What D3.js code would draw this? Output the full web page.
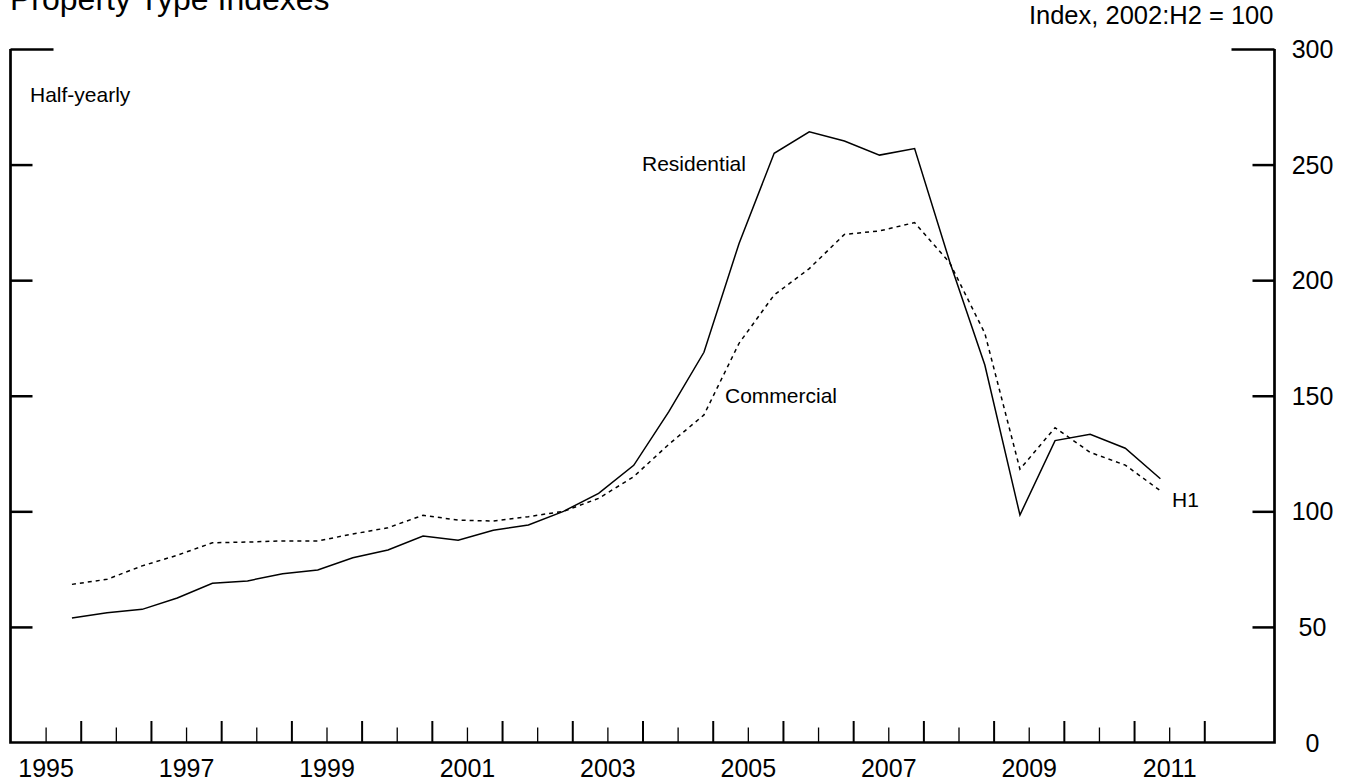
<!DOCTYPE html>
<html>
<head>
<meta charset="utf-8">
<script src="https://cdn.jsdelivr.net/npm/d3@7/dist/d3.min.js"></script>
<style>
  html, body { margin: 0; padding: 0; background: #fff; }
  svg { display: block; }
  text { font-family: "Liberation Sans", Arial, Helvetica, sans-serif; fill: #000; }
</style>
</head>
<body>
<svg id="chart" width="1356" height="782"></svg>
<script>
// ---- data (half-yearly, index 2002:H2 = 100) ----
const periods = ["1995:H2","1996:H1","1996:H2","1997:H1","1997:H2","1998:H1","1998:H2","1999:H1",
  "1999:H2","2000:H1","2000:H2","2001:H1","2001:H2","2002:H1","2002:H2","2003:H1","2003:H2",
  "2004:H1","2004:H2","2005:H1","2005:H2","2006:H1","2006:H2","2007:H1","2007:H2","2008:H1",
  "2008:H2","2009:H1","2009:H2","2010:H1","2010:H2","2011:H1"];
const residential = [53.9, 56.1, 57.6, 62.5, 68.9, 69.9, 73.0, 74.6, 79.9, 83.3, 89.3, 87.5,
  91.8, 94.1, 100.0, 107.8, 119.9, 143.1, 168.8, 215.9, 254.9, 264.2, 260.2, 254.1, 256.9,
  208.0, 163.3, 98.4, 130.6, 133.3, 127.3, 114.1];
const commercial = [68.4, 70.6, 76.4, 81.0, 86.4, 86.7, 87.2, 87.2, 90.2, 92.9, 98.3, 96.2,
  95.8, 97.7, 100.0, 105.6, 115.0, 129.0, 141.7, 172.7, 193.6, 205.0, 219.8, 221.3, 224.9,
  207.5, 177.0, 118.2, 136.2, 125.5, 120.0, 108.9];
const yTicks = [0, 50, 100, 150, 200, 250, 300];
const xLabelYears = [1995, 1997, 1999, 2001, 2003, 2005, 2007, 2009, 2011];
const xDomain = [1995, 2013];
const yDomain = [0, 300];

// ---- layout ----
const svg = d3.select("#chart");
const pLeft = 10.5, pRight = 1274.5, pTop = 49, pBottom = 742.5;
const x = d3.scaleLinear().domain(xDomain).range([pLeft, pRight]);
const y = d3.scaleLinear().domain(yDomain).range([pBottom, pTop]);

// half-year periods plotted within the second quarter of each half
const toT = p => { const [yr, h] = p.split(":"); return +yr + (h === "H1" ? 0.375 : 0.875); };

// ---- titles ----
svg.append("text").attr("x", 10).attr("y", 10).attr("font-size", 32).text("Property Type Indexes");
svg.append("text").attr("x", pRight - 1).attr("y", 24).attr("font-size", 25.5)
  .attr("text-anchor", "end").text("Index, 2002:H2 = 100");
svg.append("text").attr("x", 30).attr("y", 102).attr("font-size", 21).text("Half-yearly");

// ---- axes ----
const gx = svg.append("g");
// major ticks at year boundaries
gx.append("g").attr("transform", `translate(0,${pBottom})`)
  .call(d3.axisBottom(x).tickValues(d3.range(1996, 2013)).tickSize(-21.5).tickSizeOuter(0).tickFormat(""))
  .call(g => g.select(".domain").remove())
  .call(g => g.selectAll("line").attr("stroke", "#000").attr("stroke-width", 2));
// minor ticks at mid-year
gx.append("g").attr("transform", `translate(0,${pBottom})`)
  .call(d3.axisBottom(x).tickValues(d3.range(1995.5, 2012, 1)).tickSize(-15).tickSizeOuter(0).tickFormat(""))
  .call(g => g.select(".domain").remove())
  .call(g => g.selectAll("line").attr("stroke", "#000").attr("stroke-width", 1.3));
// year labels centered in the year
gx.append("g").attr("transform", `translate(0,${pBottom})`)
  .call(d3.axisBottom(x).tickValues(xLabelYears.map(v => v + 0.5)).tickSize(0).tickPadding(0)
    .tickFormat(d => String(Math.floor(d))))
  .call(g => g.select(".domain").remove())
  .call(g => g.selectAll("text").attr("font-size", 25).attr("dy", null).attr("y", 34.5)
    .attr("font-family", "Liberation Sans, Arial, sans-serif").attr("fill", "#000"));

// left y ticks
svg.append("g").attr("transform", `translate(${pLeft},0)`)
  .call(d3.axisRight(y).tickValues(yTicks.filter(v => v > 0 && v < 300)).tickSize(22).tickSizeOuter(0).tickFormat(""))
  .call(g => g.select(".domain").remove())
  .call(g => g.selectAll("line").attr("stroke", "#000").attr("stroke-width", 2.5));
svg.append("g").attr("transform", `translate(${pLeft},0)`)
  .call(d3.axisRight(y).tickValues([300]).tickSize(43).tickSizeOuter(0).tickFormat(""))
  .call(g => g.select(".domain").remove())
  .call(g => g.selectAll("line").attr("stroke", "#000").attr("stroke-width", 2.5));
// right y ticks + labels
svg.append("g").attr("transform", `translate(${pRight},0)`)
  .call(d3.axisLeft(y).tickValues(yTicks.filter(v => v > 0 && v < 300)).tickSize(22).tickSizeOuter(0).tickFormat(""))
  .call(g => g.select(".domain").remove())
  .call(g => g.selectAll("line").attr("stroke", "#000").attr("stroke-width", 2.5));
svg.append("g").attr("transform", `translate(${pRight},0)`)
  .call(d3.axisLeft(y).tickValues([300]).tickSize(43).tickSizeOuter(0).tickFormat(""))
  .call(g => g.select(".domain").remove())
  .call(g => g.selectAll("line").attr("stroke", "#000").attr("stroke-width", 2.5));
svg.append("g").selectAll("text").data(yTicks).join("text")
  .attr("x", pRight + 38).attr("y", d => y(d)).attr("dy", "0.36em")
  .attr("text-anchor", "middle").attr("font-size", 25).text(d => d);

// frame lines (left, bottom, right)
svg.append("path")
  .attr("d", `M${x(xDomain[0])},${y(yDomain[1])}V${y(yDomain[0])}H${x(xDomain[1])}V${y(yDomain[1])}`)
  .attr("fill", "none").attr("stroke", "#000").attr("stroke-width", 2.7).attr("stroke-linejoin", "miter");

// ---- series ----
const line = d3.line().x(d => x(d.t)).y(d => y(d.v));
const resData = periods.map((p, i) => ({ t: toT(p), v: residential[i] }));
const comData = periods.map((p, i) => ({ t: toT(p), v: commercial[i] }));

svg.append("path").datum(comData).attr("d", line)
  .attr("fill", "none").attr("stroke", "#000").attr("stroke-width", 1.5).attr("stroke-dasharray", "4,4");
svg.append("path").datum(resData).attr("d", line)
  .attr("fill", "none").attr("stroke", "#000").attr("stroke-width", 1.5);

// ---- annotations ----
svg.append("text").attr("x", 642).attr("y", 171).attr("font-size", 21).text("Residential");
svg.append("text").attr("x", 725).attr("y", 403).attr("font-size", 21).text("Commercial");
svg.append("text").attr("x", 1172).attr("y", 507).attr("font-size", 21).text("H1");
</script>
</body>
</html>
